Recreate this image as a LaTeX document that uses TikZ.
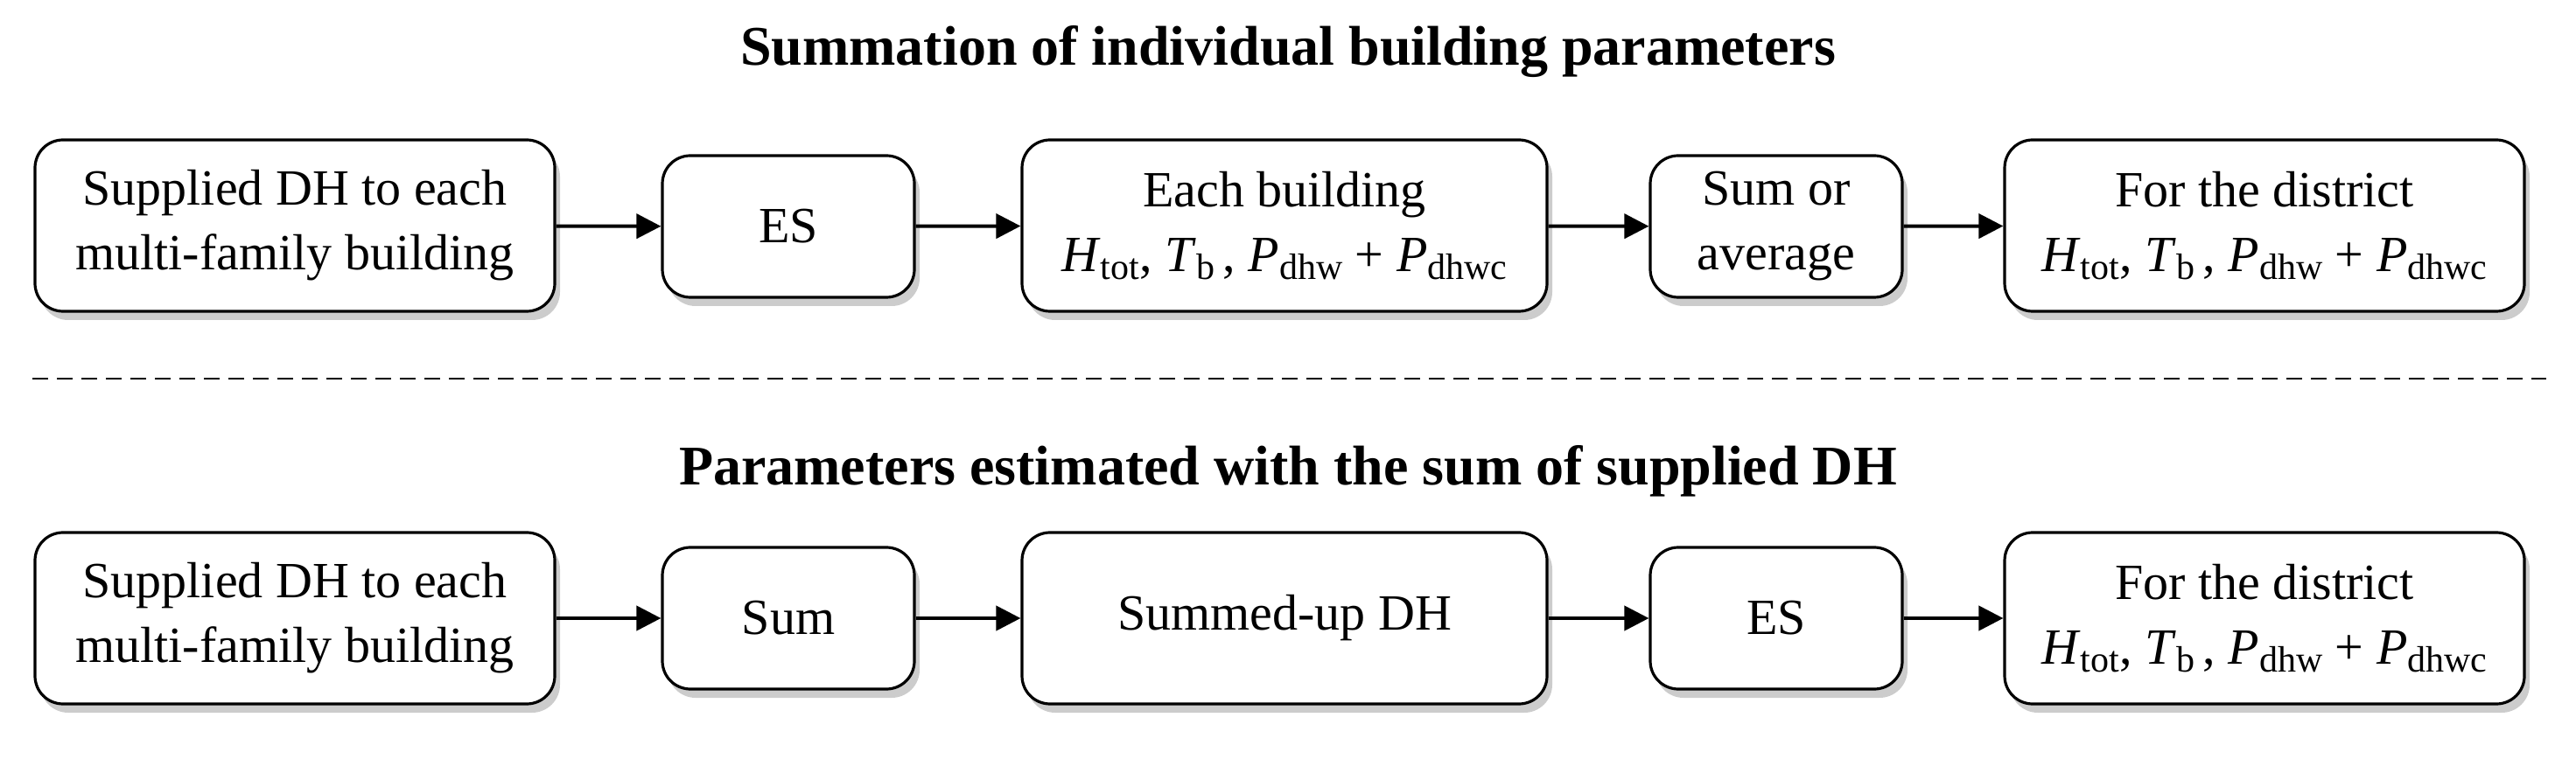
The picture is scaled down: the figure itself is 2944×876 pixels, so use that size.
\documentclass[tikz,border=0pt]{standalone}
\usepackage{fontspec}
\setmainfont{Liberation Serif}
\usetikzlibrary{shadows,arrows.meta}
\begin{document}
\begin{tikzpicture}[x=0.5pt,y=-0.5pt,
  box/.style={draw,line width=1.6pt,rounded corners=16pt,fill=white,align=center,
    font=\fontsize{29}{37}\selectfont,inner sep=0pt,
    drop shadow={opacity=0.4,shadow xshift=3pt,shadow yshift=-5pt}},
  big/.style={box,minimum width=297pt,minimum height=98pt},
  small/.style={box,minimum width=144pt,minimum height=81pt},
  arr/.style={-{Triangle[length=14pt,width=14pt]},line width=2pt},
  ttl/.style={font=\fontsize{32}{38}\selectfont\bfseries}]
\useasboundingbox (0,0) rectangle (2944,876);
\newcommand{\sbs}[1]{\raisebox{-0.35ex}{\fontsize{21}{21}\selectfont #1}}
\newcommand{\params}{\textit{H}\sbs{tot}, \textit{T}\sbs{b}\,, \textit{P}\sbs{dhw} + \textit{P}\sbs{dhwc}}
\node[ttl] (t1) at (1472,59) {Summation of individual building parameters};
\node[big] (a1) at (337,258) {Supplied DH to each\\multi-family building};
\node[small] (a2) at (901,259) {ES};
\node[big,minimum width=300pt] (a3) at (1468,258) {Each building\\\params};
\node[small] (a4) at (2030,259) {Sum or\\average};
\node[big] (a5) at (2588,258) {For the district\\\params};
\draw[arr] (a1) -- (a2); \draw[arr] (a2) -- (a3); \draw[arr] (a3) -- (a4); \draw[arr] (a4) -- (a5);
\coordinate (d1) at (37,433); \coordinate (d2) at (2910,433);
\draw[line width=1.3pt,dash pattern=on 9pt off 5pt] (d1) -- (d2);
\node[ttl] (t2) at (1472,539) {Parameters estimated with the sum of supplied DH};
\node[big] (b1) at (337,707) {Supplied DH to each\\multi-family building};
\node[small] (b2) at (901,707) {Sum};
\node[big,minimum width=300pt] (b3) at (1468,707) {Summed-up DH};
\node[small] (b4) at (2030,707) {ES};
\node[big] (b5) at (2588,707) {For the district\\\params};
\draw[arr] (b1) -- (b2); \draw[arr] (b2) -- (b3); \draw[arr] (b3) -- (b4); \draw[arr] (b4) -- (b5);
\end{tikzpicture}
\end{document}
